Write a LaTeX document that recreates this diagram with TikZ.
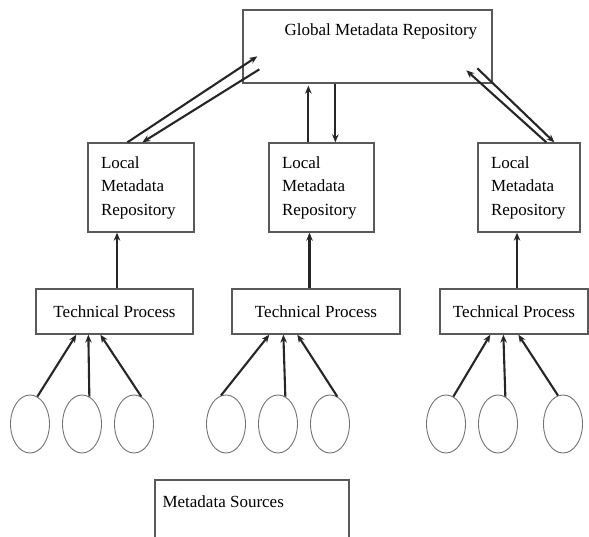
\documentclass[tikz,border=0pt]{standalone}
\usepackage{fontspec}
\setmainfont{Liberation Serif}
\usetikzlibrary{arrows.meta,calc,shapes.geometric}
\begin{document}
\begin{tikzpicture}[x=1pt,y=-1pt,
  box/.style={draw=black!65,line width=1.3pt,inner sep=0pt},
  lbox/.style={box,align=left,inner xsep=13pt,minimum height=89pt,font=\fontsize{17}{23.5}\selectfont},
  tbox/.style={box,minimum height=45pt,font=\fontsize{17}{20}\selectfont},
  txt/.style={inner sep=0pt,font=\fontsize{17}{20}\selectfont},
  src/.style={draw=black!55,line width=0.9pt,ellipse,minimum width=39pt,minimum height=58pt,inner sep=0pt},
  arr/.style={draw=black!85,line width=2.1pt,-{Stealth[length=8pt,width=6.5pt]}}]
\useasboundingbox (0,0) rectangle (589,537);
\begin{scope}
\clip (0,0) rectangle (589,537);
% global
\node[box,minimum width=249pt,minimum height=73pt] (g) at (367.5,46.5) {};
\node[txt,anchor=west] (gtext) at ($(g.north west)+(42,22)$) {Global Metadata Repository};
% local
\node[lbox,text width=80pt] (lL) at (141,187.5) {Local\\Metadata\\Repository};
\node[lbox,text width=79pt] (lM) at (321.5,187.5) {Local\\Metadata\\Repository};
\node[lbox,text width=76pt] (lR) at (529,187.5) {Local\\Metadata\\Repository};
% technical
\node[tbox,minimum width=157pt] (tL) at (114.5,311.5) {Technical Process};
\node[tbox,minimum width=168pt] (tM) at (316,311.5) {Technical Process};
\node[tbox,minimum width=148pt] (tR) at (514,311.5) {Technical Process};
% sources
\foreach \n/\x in {a1/30,a2/82,a3/134,b1/226,b2/278,b3/330,c1/446,c2/498,c3/563}
  \node[src] (\n) at (\x,424) {};
% metadata sources
\node[box,minimum width=194pt,minimum height=65pt] (ms) at (252,512.5) {};
\node[txt,anchor=west] (mstext) at ($(ms.north west)+(8,22)$) {Metadata Sources};
% arrows sources -> technical
\draw[arr] (a1.75) -- ($(tL.south west)+(41,0)$);
\draw[arr] (a2.75) -- ($(tL.south west)+(53,0)$);
\draw[arr] (a3.75) -- ($(tL.south west)+(65,0)$);
\draw[arr] (b1.100) -- ($(tM.south west)+(38,0)$);
\draw[arr] (b2.75) -- ($(tM.south west)+(52,0)$);
\draw[arr] (b3.75) -- ($(tM.south west)+(66,0)$);
\draw[arr] (c1.75) -- ($(tR.south west)+(51,0)$);
\draw[arr] (c2.75) -- ($(tR.south west)+(64,0)$);
\draw[arr] (c3.100) -- ($(tR.south west)+(79,0)$);
% technical -> local
\coordinate (xL) at (117,0);
\coordinate (xM) at (309.5,0);
\coordinate (xR) at (517,0);
\draw[arr] (tL.north -| xL) -- (lL.south -| xL);
\draw[arr] (tM.north -| xM) -- (lM.south -| xM);
\draw[arr] (tR.north -| xR) -- (lR.south -| xR);
% local <-> global
\draw[arr] ($(lL.north west)+(40,0)$) -- ($(g.north west)+(15,47)$);
\draw[arr] ($(g.north west)+(17,60)$) -- ($(lL.north west)+(55,0)$);
\draw[arr] ($(lM.north west)+(40,0)$) -- ($(g.south west)+(66,2)$);
\draw[arr] ($(g.south west)+(93,0)$) -- ($(lM.north west)+(67,0)$);
\draw[arr] ($(lR.north west)+(69,0)$) -- ($(g.north west)+(224,61)$);
\draw[arr] ($(g.north west)+(235,59)$) -- ($(lR.north west)+(77,0)$);
\end{scope}
\end{tikzpicture}
\end{document}
